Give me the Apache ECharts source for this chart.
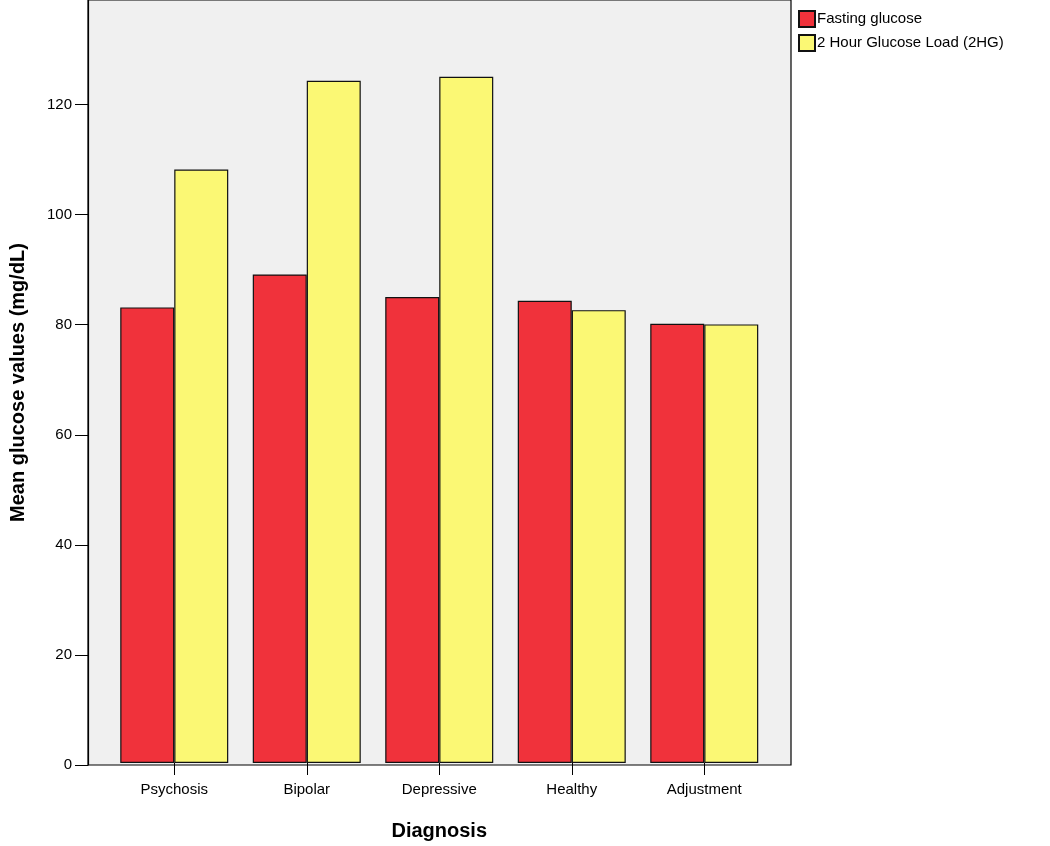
<!DOCTYPE html>
<html>
<head>
<meta charset="utf-8">
<script src="https://cdn.jsdelivr.net/npm/echarts@6/dist/echarts.min.js"></script>
<style>html,body{margin:0;padding:0;background:#fff;overflow:hidden}#c{width:1050px;height:846px}</style>
</head>
<body>
<div id="c"></div>
<script>
var categories = ['Psychosis', 'Bipolar', 'Depressive', 'Healthy', 'Adjustment'];
var fastingGlucose = [83.0, 89.0, 84.9, 84.2, 80.0];
var twoHourGlucose = [108.1, 124.3, 125.0, 82.5, 79.9];
var seriesNames = ['Fasting glucose', '2 Hour Glucose Load (2HG)'];
var yTicks = [0, 20, 40, 60, 80, 100, 120];
var yMax = 139;

var chart = echarts.init(document.getElementById('c'));
var font = 'Liberation Sans, Arial, sans-serif';
chart.setOption({
  animation: false,
  backgroundColor: '#fff',
  legend: {
    orient: 'vertical', left: 793, top: 5,
    itemWidth: 16, itemHeight: 16, itemGap: 6,
    icon: 'rect',
    textStyle: { fontFamily: font, fontSize: 15, color: '#000', padding: [0, 0, 0, -3] },
    data: seriesNames
  },
  grid: [
    { left: 85, width: 706, top: 0, height: 765, show: true, backgroundColor: '#f0f0f0',
      borderColor: '#000', borderWidth: 1.2, containLabel: false, z: 0 },
    { left: 108, width: 662.5, top: 0, height: 765, containLabel: false }
  ],
  xAxis: [{
    gridIndex: 0, type: 'value', min: 0, max: 1, show: false
  }, {
    gridIndex: 1, type: 'category', data: categories,
    axisLine: { show: false },
    axisTick: { show: true, alignWithLabel: true, length: 12, lineStyle: { color: '#000' } },
    axisLabel: { fontFamily: font, fontSize: 15, color: '#000', margin: 19 },
    name: 'Diagnosis', nameLocation: 'middle', nameGap: 58,
    nameTextStyle: { fontFamily: font, fontSize: 20, fontWeight: 'bold', color: '#000' }
  }],
  yAxis: [{
    gridIndex: 0, type: 'value', min: 0, max: yMax, interval: 20,
    axisLine: { show: true, lineStyle: { color: '#000', width: 1.2 } },
    axisTick: { show: true, length: 13, lineStyle: { color: '#000' }, customValues: yTicks },
    axisLabel: { fontFamily: font, fontSize: 15, color: '#000', margin: 16, customValues: yTicks },
    splitLine: { show: false },
    name: 'Mean glucose values (mg/dL)', nameLocation: 'middle', nameGap: 60, nameRotate: 90,
    nameTextStyle: { fontFamily: font, fontSize: 20, fontWeight: 'bold', color: '#000' }
  }, {
    gridIndex: 1, type: 'value', min: 0, max: yMax, interval: 20, show: false,
    splitLine: { show: false }
  }],
  series: [{
    name: seriesNames[0], type: 'bar', data: fastingGlucose,
    xAxisIndex: 1, yAxisIndex: 1,
    barWidth: 54, barGap: '0%',
    itemStyle: { color: '#f0323b', borderColor: '#111', borderWidth: 1.2 }
  }, {
    name: seriesNames[1], type: 'bar', data: twoHourGlucose,
    xAxisIndex: 1, yAxisIndex: 1,
    barWidth: 54, barGap: '0%',
    itemStyle: { color: '#fbf874', borderColor: '#111', borderWidth: 1.2 }
  }]
});
</script>
</body>
</html>
